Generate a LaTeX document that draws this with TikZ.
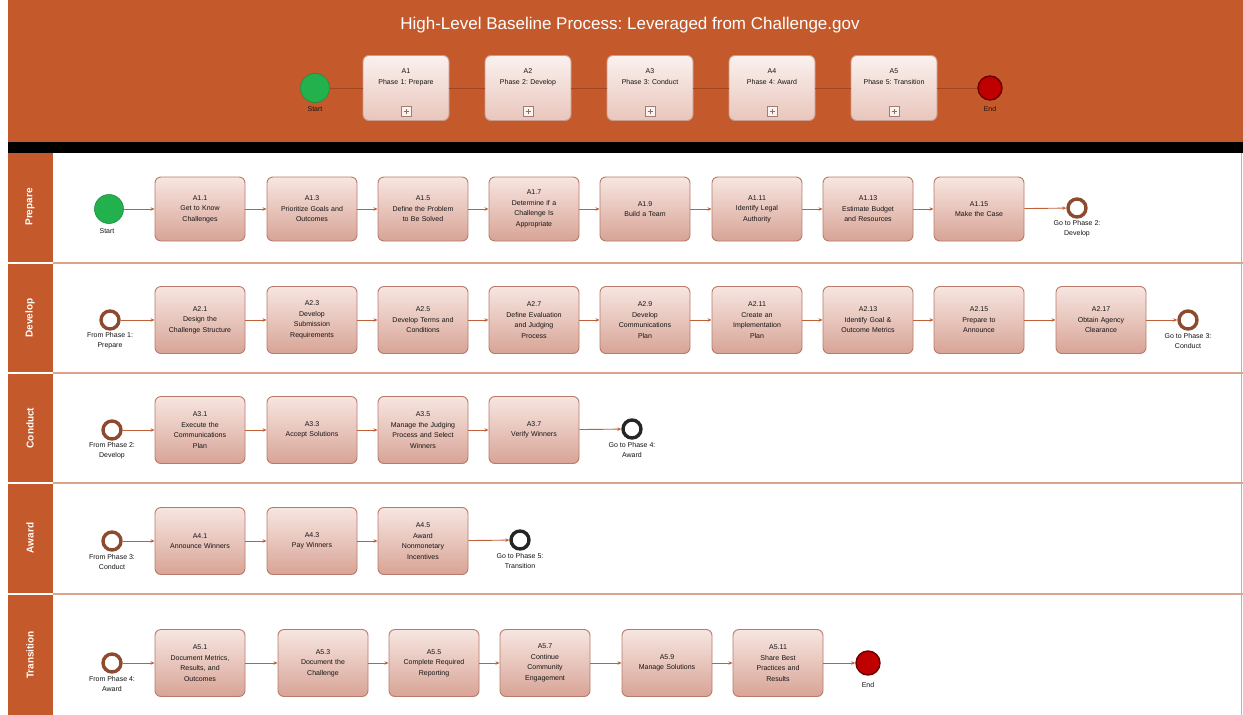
\documentclass[tikz,border=0pt]{standalone}
\usepackage{fontspec}
\setmainfont{Liberation Sans}
\frenchspacing
\usetikzlibrary{arrows.meta,positioning}

\definecolor{hdr}{HTML}{C45A2C}
\definecolor{boxtop}{HTML}{F7E6E1}
\definecolor{boxbot}{HTML}{D8A396}
\definecolor{boxedge}{HTML}{B87A6A}
\definecolor{hbtop}{HTML}{FBF1EE}
\definecolor{hbbot}{HTML}{E8C6BC}
\definecolor{hbedge}{HTML}{C99C90}
\definecolor{laneline}{HTML}{D9A58C}
\definecolor{flowc}{HTML}{C0603A}
\definecolor{ringc}{HTML}{8E4A2E}
\definecolor{startg}{HTML}{22B14C}
\definecolor{endr}{HTML}{C00000}
\definecolor{hline}{HTML}{A2461F}

\tikzset{
  task/.style={rectangle, rounded corners=6pt, draw=boxedge, line width=0.9pt,
    top color=boxtop, bottom color=boxbot, minimum width=90pt, minimum height=64pt,
    text width=86pt, align=center, font=\fontsize{7}{10.5}\selectfont, text=black!92, inner sep=1pt},
  taskd/.style={task, minimum height=67pt},
  phasebox/.style={task, top color=hbtop, bottom color=hbbot, draw=hbedge,
    minimum width=86pt, minimum height=65pt, text width=84pt},
  plusbox/.style={rectangle, draw=hbedge!80!black, line width=0.7pt, fill=hbtop,
    minimum size=10pt, inner sep=0pt,
    path picture={\draw[hbedge!70!black, line width=0.7pt]
      ([yshift=2.5pt]path picture bounding box.south) -- ([yshift=-2.5pt]path picture bounding box.north)
      ([xshift=2.5pt]path picture bounding box.west) -- ([xshift=-2.5pt]path picture bounding box.east);}},
  ring/.style={circle, draw=ringc, line width=3.4pt, fill=white, minimum size=18pt, inner sep=0pt},
  ringk/.style={ring, draw=black!85},
  startev/.style={circle, fill=startg, draw=startg!80!black, line width=0.6pt, minimum size=29pt, inner sep=0pt},
  endev/.style={circle, fill=endr, draw=endr!55!black, line width=1.4pt, minimum size=24pt, inner sep=0pt},
  evlab/.style={font=\fontsize{7}{10}\selectfont, align=center, text=black!92},
  flow/.style={draw=flowc, line width=0.9pt, -{Stealth[length=4pt,width=3.5pt]}},
  hflow/.style={draw=hline, line width=0.8pt},
  lanelab/.style={rotate=90, text=white, font=\bfseries\fontsize{10}{12}\selectfont},
}

\begin{document}
\begin{tikzpicture}[x=1pt,y=-1pt]
\useasboundingbox (0,0) rectangle (1243,715);
\fill[white] (0,0) rectangle (1243,715);

% ---------- header band ----------
\fill[hdr] (8,0) rectangle (1243,142);
\fill[black] (8,142) rectangle (1243,153);
\node[text=white, font=\fontsize{17}{19}\selectfont] (title) at (630,25)
  {High-Level Baseline Process: Leveraged from Challenge.gov};

\node[startev] (hs) at (315,88) {};
\node[evlab] (hslab) at (315,109) {Start};
\node[phasebox] (h1) at (406,88) {A1\\Phase 1: Prepare\\[12pt]\mbox{}};
\node[phasebox] (h2) at (528,88) {A2\\Phase 2: Develop\\[12pt]\mbox{}};
\node[phasebox] (h3) at (650,88) {A3\\Phase 3: Conduct\\[12pt]\mbox{}};
\node[phasebox] (h4) at (772,88) {A4\\Phase 4: Award\\[12pt]\mbox{}};
\node[phasebox] (h5) at (894,88) {A5\\Phase 5: Transition\\[12pt]\mbox{}};
\node[endev] (he) at (990,88) {};
\node[evlab] (helab) at (990,109) {End};
\foreach \n in {h1,h2,h3,h4,h5}
  \node[plusbox, above=4pt of \n.south] (\n p) {};
\foreach \a/\b in {hs/h1,h1/h2,h2/h3,h3/h4,h4/h5,h5/he}
  \draw[hflow] (\a) -- (\b);

% ---------- swimlanes ----------
\foreach \top/\bot/\mid/\name in {153/262/207/Prepare, 264/372/318/Develop,
    374/482/428/Conduct, 484/593/538/Award, 595/715/655/Transition}{
  \fill[hdr] (8,\top) rectangle (53,\bot);
  \node[lanelab] at (30,\mid) {\name};
}
\foreach \yy in {263,373,483,594}
  \draw[laneline, line width=2pt] (53,\yy) -- (1243,\yy);
\draw[laneline, line width=1pt] (1241,153) -- (1241,715);

% ---------- Prepare ----------
\node[startev] (ps) at (109,209) {};
\node[evlab] (pslab) at (107,231) {Start};
\node[task] (p1) at (200,209) {A1.1\\Get to Know\\Challenges};
\node[task] (p2) at (312,209) {A1.3\\Prioritize Goals and\\Outcomes};
\node[task] (p3) at (423,209) {A1.5\\Define the Problem\\to Be Solved};
\node[task] (p4) at (534,209) {A1.7\\Determine if a\\Challenge Is\\Appropriate};
\node[task] (p5) at (645,209) {A1.9\\Build a Team};
\node[task] (p6) at (757,209) {A1.11\\Identify Legal\\Authority};
\node[task] (p7) at (868,209) {A1.13\\Estimate Budget\\and Resources};
\node[task] (p8) at (979,209) {A1.15\\Make the Case};
\node[ring] (pe) at (1077,208) {};
\node[evlab] (pelab) at (1077,229) {Go to Phase 2:\\Develop};
\foreach \a/\b in {ps/p1,p1/p2,p2/p3,p3/p4,p4/p5,p5/p6,p6/p7,p7/p8,p8/pe}
  \draw[flow] (\a) -- (\b);

% ---------- Develop ----------
\node[ring] (ds) at (110,320) {};
\node[evlab] (dslab) at (110,341) {From Phase 1:\\Prepare};
\node[taskd] (d1) at (200,320) {A2.1\\Design the\\Challenge Structure};
\node[taskd] (d2) at (312,320) {A2.3\\Develop\\Submission\\Requirements};
\node[taskd] (d3) at (423,320) {A2.5\\Develop Terms and\\Conditions};
\node[taskd] (d4) at (534,320) {A2.7\\Define Evaluation\\and Judging\\Process};
\node[taskd] (d5) at (645,320) {A2.9\\Develop\\Communications\\Plan};
\node[taskd] (d6) at (757,320) {A2.11\\Create an\\Implementation\\Plan};
\node[taskd] (d7) at (868,320) {A2.13\\Identify Goal \&\\Outcome Metrics};
\node[taskd] (d8) at (979,320) {A2.15\\Prepare to\\Announce};
\node[taskd] (d9) at (1101,320) {A2.17\\Obtain Agency\\Clearance};
\node[ring] (de) at (1188,320) {};
\node[evlab] (delab) at (1188,341) {Go to Phase 3:\\Conduct};
\foreach \a/\b in {ds/d1,d1/d2,d2/d3,d3/d4,d4/d5,d5/d6,d6/d7,d7/d8,d8/d9,d9/de}
  \draw[flow] (\a) -- (\b);

% ---------- Conduct ----------
\node[ring] (cs) at (112,430) {};
\node[evlab] (cslab) at (112,451) {From Phase 2:\\Develop};
\node[taskd] (c1) at (200,430) {A3.1\\Execute the\\Communications\\Plan};
\node[taskd] (c2) at (312,430) {A3.3\\Accept Solutions};
\node[taskd] (c3) at (423,430) {A3.5\\Manage the Judging\\Process and Select\\Winners};
\node[taskd] (c4) at (534,430) {A3.7\\Verify Winners};
\node[ringk] (ce) at (632,429) {};
\node[evlab] (celab) at (632,450) {Go to Phase 4:\\Award};
\foreach \a/\b in {cs/c1,c1/c2,c2/c3,c3/c4,c4/ce}
  \draw[flow] (\a) -- (\b);

% ---------- Award ----------
\node[ring] (as) at (112,541) {};
\node[evlab] (aslab) at (112,562) {From Phase 3:\\Conduct};
\node[taskd] (a1) at (200,541) {A4.1\\Announce Winners};
\node[taskd] (a2) at (312,541) {A4.3\\Pay Winners};
\node[taskd] (a3) at (423,541) {A4.5\\Award\\Nonmonetary\\Incentives};
\node[ringk] (ae) at (520,540) {};
\node[evlab] (aelab) at (520,561) {Go to Phase 5:\\Transition};
\foreach \a/\b in {as/a1,a1/a2,a2/a3,a3/ae}
  \draw[flow] (\a) -- (\b);

% ---------- Transition ----------
\node[ring] (ts) at (112,663) {};
\node[evlab] (tslab) at (112,684) {From Phase 4:\\Award};
\node[taskd] (t1) at (200,663) {A5.1\\Document Metrics,\\Results, and\\Outcomes};
\node[taskd] (t2) at (323,663) {A5.3\\Document the\\Challenge};
\node[taskd] (t3) at (434,663) {A5.5\\Complete Required\\Reporting};
\node[taskd] (t4) at (545,663) {A5.7\\Continue\\Community\\Engagement};
\node[taskd] (t5) at (667,663) {A5.9\\Manage Solutions};
\node[taskd] (t6) at (778,663) {A5.11\\Share Best\\Practices and\\Results};
\node[endev] (te) at (868,663) {};
\node[evlab] (telab) at (868,685) {End};
\foreach \a/\b in {ts/t1,t1/t2,t2/t3,t3/t4,t4/t5,t5/t6,t6/te}
  \draw[flow] (\a) -- (\b);
\end{tikzpicture}
\end{document}
